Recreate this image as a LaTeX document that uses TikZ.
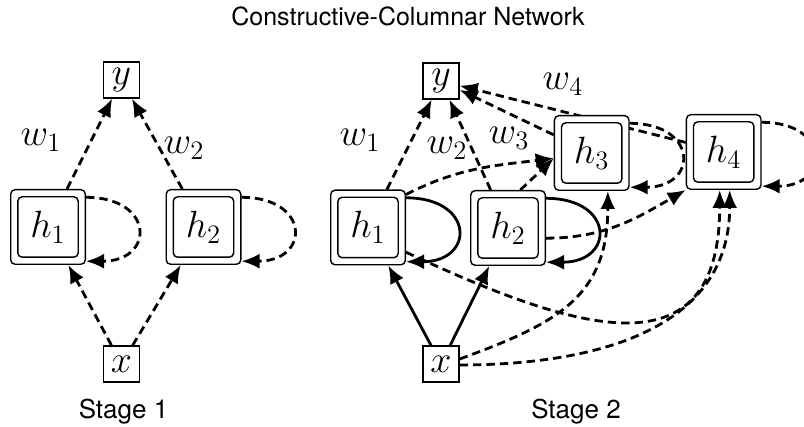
\RequirePackage{fix-cm}
\documentclass[tikz,border=0pt]{standalone}
\usepackage{fontspec}
\newfontfamily\hv{TeX Gyre Heros}
\usetikzlibrary{arrows.meta,backgrounds}
\begin{document}
\begin{tikzpicture}[x=0.5pt,y=-0.5pt,
  mfont/.style={font=\fontsize{19}{21}\selectfont},
  hbox/.style={draw, rounded corners=2.2pt, line width=0.7pt, fill=white,
    minimum size=37.3pt, inner sep=0pt, mfont},
  sbox/.style={draw, line width=0.65pt, fill=white, minimum size=18pt,
    inner sep=0pt, mfont},
  wlab/.style={inner sep=0pt, mfont},
  tip/.style={-{Latex[length=9pt,width=7.5pt]}},
  dsh/.style={line width=1.4pt, dash pattern=on 4.2pt off 2.5pt, tip},
  sol/.style={line width=1.4pt, tip},
  ttl/.style={font=\hv\fontsize{12.5}{14}\selectfont, inner sep=0pt},
  stl/.style={font=\hv\fontsize{13}{15}\selectfont, inner sep=0pt}
]
\useasboundingbox (0,0) rectangle (804,427);

% Stage 1 nodes
\node[sbox] (ay) at (121.5,80) {$y$};
\node[hbox] (ah1) at (48,227) {$h_1$};
\node[hbox] (ah2) at (203.5,227) {$h_2$};
\node[sbox] (ax) at (121.5,364) {$x$};
% Stage 2 nodes
\node[sbox] (by) at (441,81) {$y$};
\node[hbox] (bh1) at (368,227.5) {$h_1$};
\node[hbox] (bh2) at (508,228) {$h_2$};
\node[hbox] (bh3) at (591.7,153) {$h_3$};
\node[hbox] (bh4) at (723.7,152) {$h_4$};
\node[sbox] (bx) at (441,364) {$x$};

\foreach \n in {ah1,ah2,bh1,bh2,bh3,bh4}
  \draw[line width=0.7pt, rounded corners=2.2pt]
    ([shift={(3.9pt,3.9pt)}]\n.south west) rectangle ([shift={(-3.9pt,-3.9pt)}]\n.north east);

% weight labels
\node[wlab] (aw1) at (41,140) {$w_1$};
\node[wlab] (aw2) at (184,148) {$w_2$};
\node[wlab] (bw1) at (360,140) {$w_1$};
\node[wlab] (bw2) at (447,148) {$w_2$};
\node[wlab] (bw3) at (509,138) {$w_3$};
\node[wlab] (bw4) at (563,84) {$w_4$};

% titles
\node[ttl] (title) at (408,16) {Constructive-Columnar Network};
\node[stl] (st1) at (123.5,412) {Stage 1};
\node[stl] (st2) at (576,412) {Stage 2};

\begin{pgfonlayer}{background}
% Stage 1 edges
\draw[dsh] (ah1) -- (ay);
\draw[dsh] (ah2) -- (ay);
\draw[dsh] (ax) -- (ah1);
\draw[dsh] (ax) -- (ah2);
\draw[dsh] (ah1.38) .. controls +(69,0) and +(69,0) .. (ah1.-42);
\draw[dsh] (ah2.38) .. controls +(69,0) and +(69,0) .. (ah2.-42);
% Stage 2 edges
\draw[dsh] (bh1) -- (by);
\draw[dsh] (bh2) -- (by);
\draw[dsh] (bh3) -- (by);
\draw[dsh] (bh4) -- (by);
\draw[sol] (bx) -- (bh1);
\draw[sol] (bx) -- (bh2);
\draw[sol] (bh1.38) .. controls +(69,0) and +(69,0) .. (bh1.-42);
\draw[sol] (bh2.38) .. controls +(69,0) and +(69,0) .. (bh2.-42);
\draw[dsh] (bh3.38) .. controls +(69,0) and +(69,0) .. (bh3.-42);
\draw[dsh] (bh4.38) .. controls +(69,0) and +(69,0) .. (bh4.-42);
\draw[dsh] (bh1.41) to[out=27,in=187] (bh3.188);
\draw[dsh] (bh2.72) -- (bh3.188);
\draw[dsh] (bh2.-15) to[out=0,in=210] (bh4.-135);
\draw[dsh] (bx.15) to[out=20,in=270,looseness=1.2] (bh3.293);
\draw[dsh] (bx.-3) to[out=0,in=270,looseness=1.1] (bh4.279);
\draw[dsh] (bh1.-33) to[out=-25,in=270,looseness=1.5] (bh4.264);
\end{pgfonlayer}
\end{tikzpicture}
\end{document}
